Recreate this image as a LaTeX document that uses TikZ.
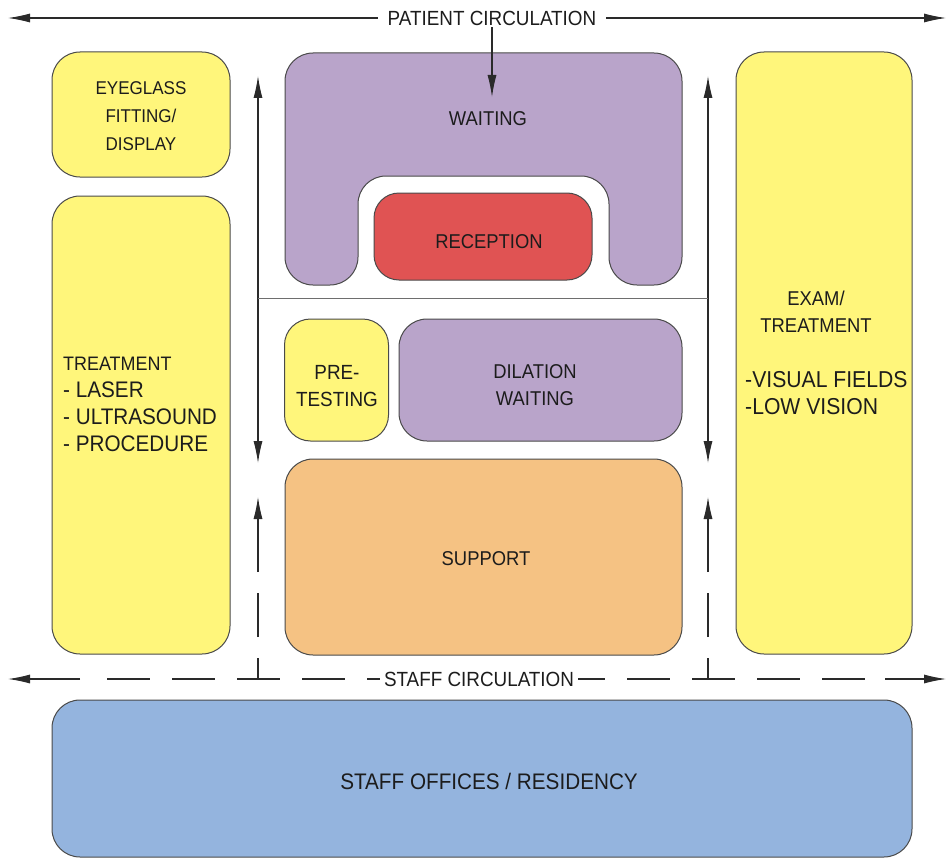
\documentclass[tikz,border=0pt]{standalone}
\usepackage{fontspec}
\setmainfont{Liberation Sans}[FakeStretch=0.92]
\usetikzlibrary{arrows.meta}
\definecolor{cYel}{HTML}{FFF67B}
\definecolor{cPur}{HTML}{B9A4CA}
\definecolor{cRed}{HTML}{E05353}
\definecolor{cOra}{HTML}{F5C283}
\definecolor{cBlu}{HTML}{94B4DE}
\definecolor{cEdge}{HTML}{4A4A4A}
\definecolor{cTxt}{HTML}{1C1C1C}
\definecolor{cLine}{HTML}{2A2A2A}
\begin{document}
\begin{tikzpicture}[x=1pt,y=-1pt,
  >={Latex[length=22pt,width=9pt]},
  room/.style={draw=cEdge, line width=1pt, rounded corners=28pt, inner sep=0pt,
               text=cTxt, align=center, font=\fontsize{20}{27}\selectfont},
  lbl/.style={inner sep=0pt, text=cTxt, align=center, font=\fontsize{20}{27}\selectfont},
  big/.style={font=\fontsize{23}{27}\selectfont},
  flow/.style={draw=cLine, line width=1.1pt}]
\useasboundingbox (0,0) rectangle (951,859);

% ---------- rooms ----------
\node[room, fill=cYel, minimum width=178pt, minimum height=125pt] (eye) at (141,114.5) {};
\node[lbl, font=\fontsize{18.5}{28}\selectfont] (eyetxt) at (141,116)
      {EYEGLASS\\FITTING/\\DISPLAY};
\node[room, fill=cYel, minimum width=178pt, minimum height=458pt] (treat) at (141,425) {};
\node[lbl, anchor=west, align=left] (treattxt) at (63,404)
      {{\fontsize{19.5}{27}\selectfont TREATMENT}\\
       {\fontsize{22.5}{27}\selectfont - LASER}\\
       {\fontsize{22.5}{27}\selectfont - ULTRASOUND}\\
       {\fontsize{22.5}{27}\selectfont - PROCEDURE}};

\path[draw=cEdge, line width=1pt, fill=cPur, rounded corners=28pt]
  (480,53) -- (682,53) -- (682,285) -- (609,285) -- (609,176)
  -- (358,176) -- (358,285) -- (285,285) -- (285,53) -- cycle;
\node[lbl] (waittxt) at (488,119) {WAITING};

\node[room, fill=cRed, rounded corners=25pt, minimum width=218pt, minimum height=87pt]
      (recep) at (483,236.5) {};
\node[lbl] (receptxt) at (489,242) {RECEPTION};

\node[room, fill=cYel, rounded corners=26pt, minimum width=104pt, minimum height=122pt]
      (pre) at (336.5,380) {};
\node[lbl, font=\fontsize{20.5}{27}\selectfont] (pretxt) at (337,386) {PRE-\\TESTING};
\node[room, fill=cPur, minimum width=283pt, minimum height=122pt] (dil) at (540.5,380) {};
\node[lbl] (diltxt) at (535,385) {DILATION\\WAITING};
\node[room, fill=cOra, minimum width=397pt, minimum height=196pt] (supp) at (483.5,557) {};
\node[lbl] (supptxt) at (486,558.5) {SUPPORT};

\node[room, fill=cYel, minimum width=176pt, minimum height=602pt] (exam) at (824,353) {};
\node[lbl] (examtxt) at (816,312) {EXAM/\\TREATMENT};
\node[lbl, big, anchor=west, align=left] (examlist) at (745,393)
      {-VISUAL FIELDS\\-LOW VISION};

\node[room, fill=cBlu, minimum width=860pt, minimum height=157pt] (staff) at (482,778.5) {};
\node[lbl, font=\fontsize{22.5}{27}\selectfont] (stafftxt) at (489,781)
      {STAFF OFFICES / RESIDENCY};

% ---------- patient circulation ----------
\node[lbl, inner xsep=10pt, inner ysep=2pt, font=\fontsize{20.5}{24}\selectfont]
      (pc) at (492,18) {PATIENT CIRCULATION};
\coordinate (pL) at (8,18);
\coordinate (pR) at (946,18);
\coordinate (pD) at (492,97);
\draw[flow, ->] (pc.west) -- (pL);
\draw[flow, ->] (pc.east) -- (pR);
\draw[flow, ->] (pc.south) -- (pD);

% vertical patient corridors
\coordinate (lT) at (258,76);
\coordinate (lB) at (258,463);
\coordinate (rT) at (708,76);
\coordinate (rB) at (708,463);
\coordinate (hL) at (258,298);
\coordinate (hR) at (708,298);
\draw[flow, <->] (lB) -- (lT);
\draw[flow, <->] (rB) -- (rT);
\draw[draw=cEdge!80, line width=1pt] (hL) -- (hR);

% ---------- staff circulation ----------
\coordinate (dLb) at (258,679);
\coordinate (dLt) at (258,497);
\coordinate (dRb) at (708,679);
\coordinate (dRt) at (708,497);
\draw[flow, ->, dash pattern=on 21pt off 21pt on 44pt off 21pt on 120pt] (dLb) -- (dLt);
\draw[flow, ->, dash pattern=on 21pt off 21pt on 44pt off 21pt on 120pt] (dRb) -- (dRt);

\coordinate (sA) at (107,679);
\coordinate (sB) at (885,679);
\coordinate (sL0) at (80,679);
\coordinate (sL) at (8,679);
\coordinate (sR) at (946,679);
\draw[flow, dash pattern=on 43pt off 22pt] (sA) -- (sB);
\draw[flow, ->] (sL0) -- (sL);
\draw[flow, ->] (sB) -- (sR);
\node[lbl, fill=white, inner xsep=4pt, inner ysep=3pt, font=\fontsize{20.5}{24}\selectfont]
      (sc) at (479,679) {STAFF CIRCULATION};
\end{tikzpicture}
\end{document}
